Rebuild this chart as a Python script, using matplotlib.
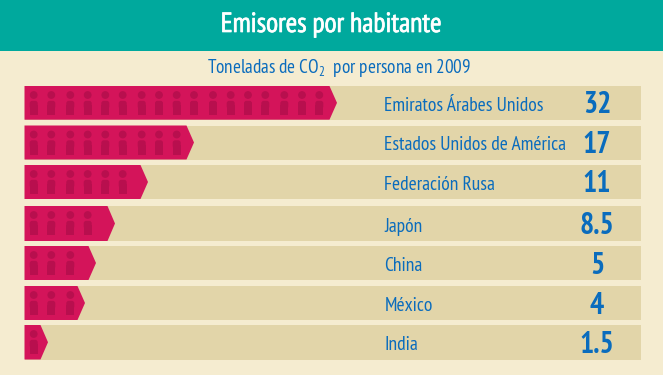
import matplotlib
matplotlib.use("Agg")
import matplotlib.pyplot as plt
import matplotlib.patheffects as pe
from matplotlib.patches import Polygon, Rectangle, Circle, FancyBboxPatch

countries = ["Emiratos Árabes Unidos", "Estados Unidos de América", "Federación Rusa",
             "Japón", "China", "México", "India"]
value_labels = ["32", "17", "11", "8.5", "5", "4", "1.5"]
# length of each arrow as drawn in the picture, px from the band's left edge
bar_lengths = [312.5, 169.5, 123.5, 90.5, 71.5, 60.5, 23.5]
person_counts = [17, 9, 6, 4, 3, 3, 1]
person_x = [33.7, 51.3, 70.3, 87.7, 105.3, 122.7, 141.7, 159, 176.7, 194, 213, 230.7,
            248, 265.3, 284.3, 302, 319.3]
row_top = [86, 125.5, 165, 206, 246, 286, 325]
row_bottom = [119.7, 159.5, 199, 241, 280, 320, 359.5]

BG = "#F5ECD0"; TEAL = "#00A99D"; BAND = "#E2D5A9"; BAR = "#D4145A"
PERSON = "#B80F4E"; BLUE = "#0A6CBD"
FONT = ["PT Sans Narrow", "Open Sans Condensed", "Roboto", "DejaVu Sans"]
plt.rcParams["mathtext.fontset"] = "custom"
plt.rcParams["mathtext.rm"] = "PT Sans Narrow"
plt.rcParams["mathtext.default"] = "rm"

fig = plt.figure(figsize=(6.63, 3.75), dpi=100, facecolor=BG)
ax = fig.add_axes([0, 0, 1, 1])
ax.set_xlim(0, 663); ax.set_ylim(375, 0); ax.axis("off")

ax.add_patch(Rectangle((0, 0), 663, 51, color=TEAL, lw=0))
ax.text(331, 25, "Emisores por habitante", color="white", fontsize=20, ha="center",
        va="center", family=FONT,
        path_effects=[pe.withStroke(linewidth=0.5, foreground="white")])
ax.text(339, 68, "Toneladas de CO$_2$  por persona en 2009", color=BLUE, fontsize=13.8,
        ha="center", va="center", family=FONT)

left = 24.5
for i, name in enumerate(countries):
    t, b = row_top[i], row_bottom[i]
    m = (t + b) / 2
    ax.add_patch(Rectangle((left, t), 641 - left, b - t, color=BAND, lw=0))
    tip = left + bar_lengths[i]
    ax.add_patch(Polygon([(left, t), (tip - 7.5, t), (tip, m), (tip - 7.5, b), (left, b)],
                         closed=True, color=BAR, lw=0))
    for x in person_x[:person_counts[i]]:
        ax.add_patch(Circle((x, t + 9), 3.9, color=PERSON, lw=0))
        ax.add_patch(FancyBboxPatch((x - 3, t + 15.8), 6, 6,
                                    boxstyle="round,pad=1,rounding_size=2.5",
                                    color=PERSON, lw=0))
        ax.add_patch(Rectangle((x - 4, t + 19), 8, 10, color=PERSON, lw=0))
    ax.text(384.5, m + 3, name, color=BLUE, fontsize=14, ha="left", va="center", family=FONT)
    ax.text(597, m + 2.5, value_labels[i], color=BLUE, fontsize=21.5, fontweight="bold",
            ha="center", va="center", family=FONT)

fig.savefig("out.png", dpi=100, facecolor=BG)
